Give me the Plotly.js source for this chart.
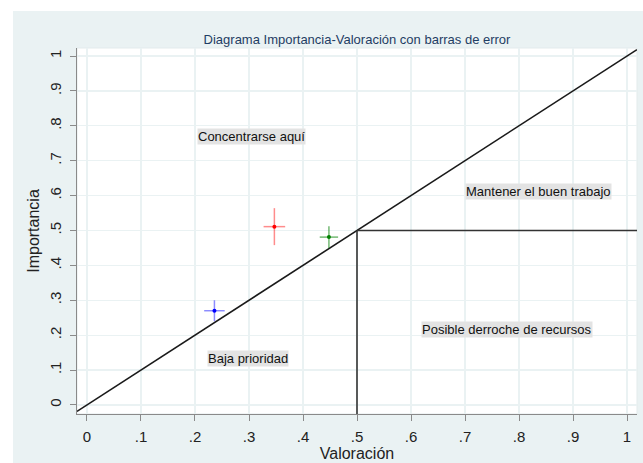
<!DOCTYPE html>
<html>
<head>
<meta charset="utf-8">
<script src="https://cdn.plot.ly/plotly-3.0.1.min.js"></script>
<style>
  html, body { margin: 0; padding: 0; background: #ffffff; }
  #chart { position: absolute; left: 13px; top: 11px; width: 630px; height: 452px; }
</style>
</head>
<body>
<div id="chart"></div>
<script>
// ---- data ----
const valoracion = [0.236, 0.347, 0.448];
const importancia = [0.270, 0.511, 0.481];
const errValoracion = [0.019, 0.020, 0.017];
const errImportancia = [0.030, 0.053, 0.031];
const pointColors = ['#0000ff', '#ff0000', '#008000'];
const barColors = ['rgba(0,0,255,0.45)', 'rgba(255,0,0,0.45)', 'rgba(0,128,0,0.55)'];

const umbral = 0.5;
const xRange = [-0.0185, 1.0185];
const yRange = [-0.026, 1.023];

const tickVals = [0, 0.1, 0.2, 0.3, 0.4, 0.5, 0.6, 0.7, 0.8, 0.9, 1];
const tickText = ['0', '.1', '.2', '.3', '.4', '.5', '.6', '.7', '.8', '.9', '1'];

const zoneText = ['Concentrarse aquí', 'Mantener el buen trabajo', 'Posible derroche de recursos', 'Baja prioridad'];
const zoneX = [0.305, 0.836, 0.778, 0.298];
const zoneY = [0.770, 0.612, 0.216, 0.132];

const FONT = 'Liberation Sans, Arial, sans-serif';

// ---- traces ----
const traces = [];
// diagonal y = x
traces.push({
  x: [xRange[0], xRange[1]], y: [xRange[0], xRange[1]],
  mode: 'lines', line: {color: '#1a1a1a', width: 1.6},
  hoverinfo: 'skip', showlegend: false
});
// horizontal threshold
traces.push({
  x: [umbral, xRange[1]], y: [umbral, umbral],
  mode: 'lines', line: {color: '#333333', width: 1.6},
  hoverinfo: 'skip', showlegend: false
});
// vertical threshold
traces.push({
  x: [umbral, umbral], y: [yRange[0], umbral],
  mode: 'lines', line: {color: '#333333', width: 1.6},
  hoverinfo: 'skip', showlegend: false
});
for (let i = 0; i < valoracion.length; i++) {
  traces.push({
    x: [valoracion[i]], y: [importancia[i]],
    mode: 'markers', type: 'scatter',
    marker: {color: pointColors[i], size: 4},
    error_x: {type: 'data', array: [errValoracion[i]], color: barColors[i], thickness: 1.5, width: 0},
    error_y: {type: 'data', array: [errImportancia[i]], color: barColors[i], thickness: 1.5, width: 0},
    showlegend: false
  });
}

const annotations = zoneText.map((t, i) => ({
  x: zoneX[i], y: zoneY[i], xref: 'x', yref: 'y', text: t, showarrow: false,
  font: {family: FONT, size: 13, color: '#111111'},
  bgcolor: '#e3e3e3', borderpad: 0
}));

const layout = {
  width: 630, height: 452,
  margin: {l: 64, r: 6, t: 37, b: 49},
  paper_bgcolor: '#eaf2f3',
  plot_bgcolor: '#ffffff',
  title: {
    text: 'Diagrama Importancia-Valoración con barras de error',
    font: {family: FONT, size: 13, color: '#1f3d63'},
    x: 0.5, xref: 'paper', y: 1, yref: 'paper', yanchor: 'bottom', pad: {b: 4}
  },
  xaxis: {
    range: xRange, tickvals: tickVals, ticktext: tickText,
    showgrid: true, gridcolor: '#eaf2f3', gridwidth: 1.2, zeroline: false,
    showline: true, linecolor: '#8a8a8a', linewidth: 1,
    ticks: 'outside', ticklen: 6, tickcolor: '#8a8a8a', tickwidth: 1,
    tickfont: {family: FONT, size: 15, color: '#222222'},
    ticklabelstandoff: 3,
    title: {text: 'Valoración', font: {family: FONT, size: 16, color: '#222222'}, standoff: 0}
  },
  yaxis: {
    range: yRange, tickvals: tickVals, ticktext: tickText, tickangle: -90,
    showgrid: true, gridcolor: '#eaf2f3', gridwidth: 1.2, zeroline: false,
    showline: true, linecolor: '#8a8a8a', linewidth: 1,
    ticks: 'outside', ticklen: 6, tickcolor: '#8a8a8a', tickwidth: 1,
    tickfont: {family: FONT, size: 15, color: '#222222'},
    ticklabelstandoff: 3,
    title: {text: 'Importancia', font: {family: FONT, size: 16, color: '#222222'}, standoff: 3}
  },
  annotations: annotations,
  shapes: [
    {type: 'rect', xref: 'paper', yref: 'paper', x0: 0, x1: 1, y0: 0, y1: 1,
     line: {color: '#e3ebec', width: 1}, fillcolor: 'rgba(0,0,0,0)', layer: 'below'}
  ]
};

Plotly.newPlot('chart', traces, layout, {displayModeBar: false, staticPlot: true});
</script>
</body>
</html>
